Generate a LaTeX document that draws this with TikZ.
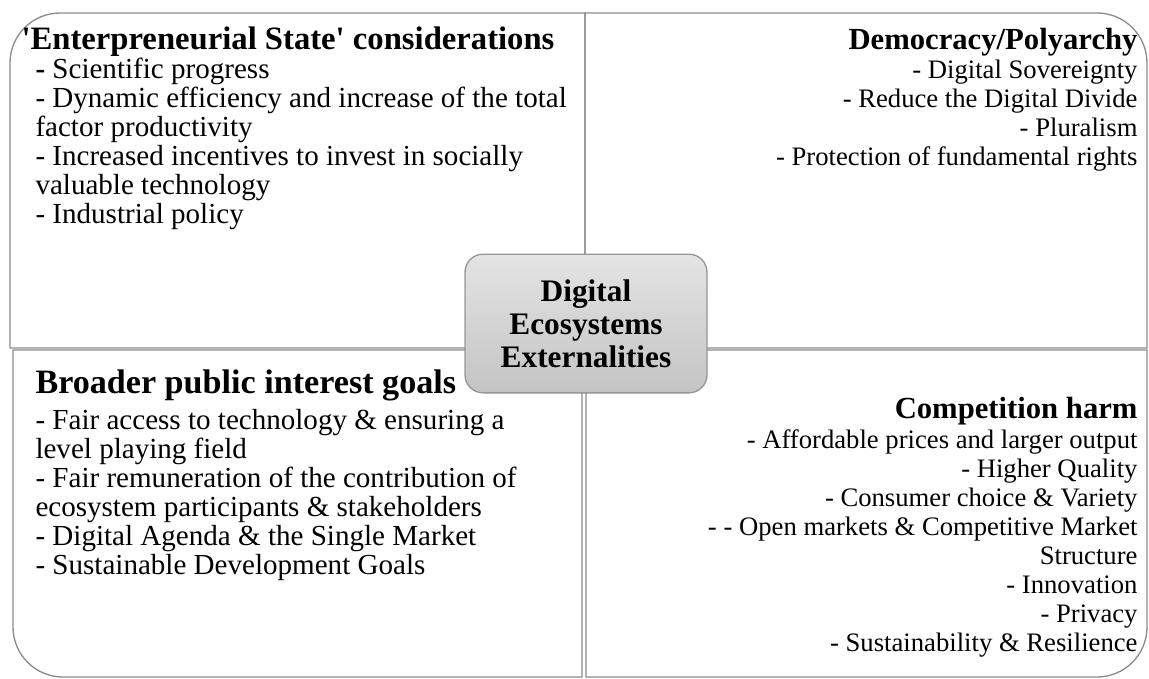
\documentclass[tikz,border=0pt]{standalone}
\usepackage{fontspec}
\setmainfont{Liberation Serif}
\tikzset{every picture/.style={line width=0.75pt}}
\tikzset{
  quad/.style={draw={rgb,255:red,140;green,140;blue,140},line width=1pt},
  hub/.style={draw={rgb,255:red,150;green,150;blue,150},line width=1pt,rounded corners=13.5pt,
    top color={rgb,255:red,228;green,228;blue,228},bottom color={rgb,255:red,196;green,196;blue,196},
    minimum width=181.5pt,minimum height=104pt,align=center,
    font=\fontsize{23.5}{24.6}\selectfont\bfseries},
  headtxt/.style={inner sep=0pt,font=\fontsize{23}{24}\selectfont\bfseries},
  bodytxt/.style={inner sep=0pt,font=\fontsize{20}{21.75}\selectfont},
  % the left column is set a little larger
  bigheadtxt/.style={headtxt,font=\fontsize{24.5}{25}\selectfont\bfseries},
  bigbodytxt/.style={bodytxt,font=\fontsize{21.8}{21.75}\selectfont}
}
\begin{document}
\begin{tikzpicture}[x=0.75pt,y=0.75pt,yscale=-1,xscale=1]
\useasboundingbox (0,0) rectangle (1149,678);

%Shape: Round Single Corner Rectangle [top left]
\draw [quad] (585,348) -- (10,348) -- (10,63) arc[start angle=180,end angle=270,radius=50] -- (585,13) -- cycle ;
%Shape: Round Single Corner Rectangle [top right]
\draw [quad] (585,13) -- (1097,13) arc[start angle=270,end angle=360,radius=50] -- (1147,348) -- (585,348) -- cycle ;
%Shape: Round Single Corner Rectangle [bottom left]
\draw [quad] (13,350) -- (582,350) -- (582,677) -- (63,677) arc[start angle=90,end angle=180,radius=50] -- cycle ;
%Shape: Round Single Corner Rectangle [bottom right]
\draw [quad] (586,350) -- (1147,350) -- (1147,627) arc[start angle=0,end angle=90,radius=50] -- (586,677) -- cycle ;

%Shape: Rounded Rectangle [centre]
\node [hub] (hub) at (586,323.5) {Digital\\Ecosystems\\Externalities};

% Text Node
\node [bigheadtxt,anchor=base west] (tlhead) at (21,49) {\textquotesingle Enterpreneurial State\textquotesingle{} considerations};
% Text Node
\node [bigbodytxt,anchor=north west,align=left] (tlbody) at (35,57.5) {\textbf{-} Scientific progress\\- Dynamic efficiency and increase of the total\\factor productivity\\- Increased incentives to invest in socially\\valuable technology\\- Industrial policy};
% Text Node
\node [headtxt,anchor=base east] (trhead) at (1138,49) {Democracy/Polyarchy};
% Text Node
\node [bodytxt,anchor=north east,align=right] (trbody) at (1138,59) {- Digital Sovereignty\\- Reduce the Digital Divide\\- Pluralism\\- Protection of fundamental rights};
% Text Node
\node [bigheadtxt,font=\fontsize{25.6}{26}\selectfont\bfseries,anchor=base west] (blhead) at (35,393) {Broader public interest goals};
% Text Node
\node [bigbodytxt,anchor=north west,align=left] (blbody) at (35,408.5) {- Fair access to technology \& ensuring a\\level playing field\\- Fair remuneration of the contribution of\\ecosystem participants \& stakeholders\\- Digital Agenda \& the Single Market\\- Sustainable Development Goals};
% Text Node
\node [headtxt,anchor=base east] (brhead) at (1138,418) {Competition harm};
% Text Node
\node [bodytxt,anchor=north east,align=right] (brbody) at (1138,429) {- Affordable prices and larger output\\- Higher Quality\\- Consumer choice \& Variety\\- - Open markets \& Competitive Market\\Structure\\- Innovation\\- Privacy\\- Sustainability \& Resilience};

\end{tikzpicture}
\end{document}
